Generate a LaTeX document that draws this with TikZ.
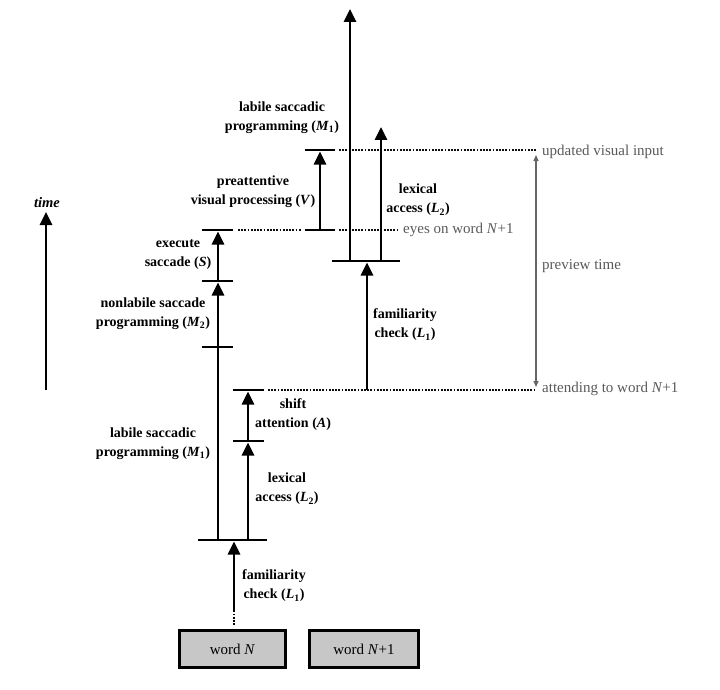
\documentclass[tikz,border=0pt]{standalone}
\usepackage{fontspec}
\setmainfont{Liberation Serif}
\usetikzlibrary{arrows.meta}

\tikzset{
  stage/.style={line width=2.9pt, -{Triangle[length=13pt,width=12pt]}, shorten >=1.5pt},
  tick/.style={line width=2.8pt},
  guide/.style={line width=2.6pt, dash pattern=on 1.8pt off 1.4pt, black!95},
  lab/.style={font=\fontsize{14}{19}\selectfont\bfseries, align=center, inner sep=0pt},
  note/.style={font=\fontsize{15}{17}\selectfont, text=black!65, anchor=west, inner sep=0pt},
  wordbox/.style={draw, line width=2.8pt, fill=black!22, inner sep=0pt,
    minimum height=36.5pt, font=\fontsize{15}{17}\selectfont},
}
\newcommand{\sym}[2]{\textit{#1}\textsubscript{#2}}

\begin{document}
\begin{tikzpicture}[x=1pt,y=-1pt]
\useasboundingbox (0,0) rectangle (720,690);

% --- time axis ---
\coordinate (t0) at (46,390);
\coordinate (t1) at (46,212);
\draw[line width=2.9pt, -{Triangle[length=13pt,width=12pt]}] (t0) -- (t1);
\node[font=\fontsize{14.5}{16}\selectfont\bfseries\itshape, inner sep=0pt] (timelab) at (47,203) {time};

% --- words ---
\node[wordbox, minimum width=106pt] (wN) at (232.5,649) {word \textit{N}};
\node[wordbox, minimum width=109pt] (wN1) at (364,649) {word \textit{N}+1};

% --- stage boundaries (word N) ---
\coordinate (fa) at (234,625);
\coordinate (fb) at (234,610);
\coordinate (b0l) at (198,540); \coordinate (b0r) at (267,540);
\coordinate (m1a) at (218,540); \coordinate (l2a) at (248,540);
\coordinate (f1e) at (234,540);

\coordinate (bLl) at (233,441); \coordinate (bLr) at (264,441);
\coordinate (l2b) at (248,441);
\coordinate (bAl) at (233,390); \coordinate (bAr) at (264,390);
\coordinate (ab) at (248,390);

\coordinate (bMl) at (202,347); \coordinate (bMr) at (233,347);
\coordinate (m1b) at (218,347);
\coordinate (bM2l) at (202,281); \coordinate (bM2r) at (233,281);
\coordinate (m2b) at (218,281);
\coordinate (bSl) at (202,230); \coordinate (bSr) at (233,230);
\coordinate (sb) at (218,230);

% --- stage boundaries (word N+1) ---
\coordinate (bVl) at (305,230); \coordinate (bVr) at (335,230);
\coordinate (va) at (320,230);
\coordinate (bV2l) at (305,150); \coordinate (bV2r) at (335,150);
\coordinate (vb) at (320,150);
\coordinate (f2a) at (367,390);
\coordinate (bFl) at (332,261); \coordinate (bFr) at (400,261);
\coordinate (f2b) at (367,261);
\coordinate (m1c) at (350,261); \coordinate (m1d) at (350,9);
\coordinate (l2c) at (381,261); \coordinate (l2d) at (381,127);

% --- dotted guide lines ---
\coordinate (gA0) at (268,390); \coordinate (gA1) at (536,390);
\coordinate (gS0) at (238,230); \coordinate (gS1) at (301,230);
\coordinate (gE0) at (339,230); \coordinate (gE1) at (399,230);
\coordinate (gU0) at (339,150); \coordinate (gU1) at (536,150);
\draw[guide] (gA0) -- (gA1);
\draw[guide] (gS0) -- (gS1);
\draw[guide] (gE0) -- (gE1);
\draw[guide] (gU0) -- (gU1);

% --- ticks ---
\foreach \l/\r in {b0l/b0r, bLl/bLr, bAl/bAr, bMl/bMr, bM2l/bM2r, bSl/bSr, bVl/bVr, bV2l/bV2r, bFl/bFr}
  \draw[tick] (\l) -- (\r);

% --- processing stages ---
\draw[line width=2.8pt, dash pattern=on 1.8pt off 1.4pt] (fa) -- (fb);
\draw[stage] (fb) -- (f1e);
\draw[tick] (m1a) -- (m1b);
\draw[stage] (l2a) -- (l2b);
\draw[stage] (l2b) -- (ab);
\draw[stage] (m1b) -- (m2b);
\draw[stage] (m2b) -- (sb);
\draw[stage] (va) -- (vb);
\draw[stage] (f2a) -- (f2b);
\draw[stage, shorten >=0pt] (m1c) -- (m1d);
\draw[stage, shorten >=0pt] (l2c) -- (l2d);

% --- preview interval ---
\coordinate (pv0) at (536,155);
\coordinate (pv1) at (536,387);
\draw[black!60, line width=1.3pt, {Triangle[length=6pt,width=5pt]}-{Triangle[length=6pt,width=5pt]}] (pv0) -- (pv1);

% --- stage labels ---
\node[lab] (lf1) at (274,586) {familiarity\\check (\sym{L}{1})};
\node[lab] (ll2) at (287,489) {lexical\\access (\sym{L}{2})};
\node[lab] (lsa) at (293,415) {shift\\attention (\textit{A})};
\node[lab] (lm1) at (153,444) {labile saccadic\\programming (\sym{M}{1})};
\node[lab] (lm2) at (153,314) {nonlabile saccade\\programming (\sym{M}{2})};
\node[lab] (lex) at (178,255) {execute\\saccade (\textit{S})};
\node[lab] (lpv) at (253,192) {preattentive\\visual processing (\textit{V})};
\node[lab] (lm1b) at (282,118) {labile saccadic\\programming (\sym{M}{1})};
\node[lab] (ll2b) at (418,200) {lexical\\access (\sym{L}{2})};
\node[lab] (lf1b) at (405,325) {familiarity\\check (\sym{L}{1})};

% --- event notes ---
\node[note] (nu) at (542,152) {updated visual input};
\node[note] (ne) at (403,230) {eyes on word \textit{N}+1};
\node[note] (np) at (542,266) {preview time};
\node[note] (na) at (542,389) {attending to word \textit{N}+1};
\end{tikzpicture}
\end{document}
